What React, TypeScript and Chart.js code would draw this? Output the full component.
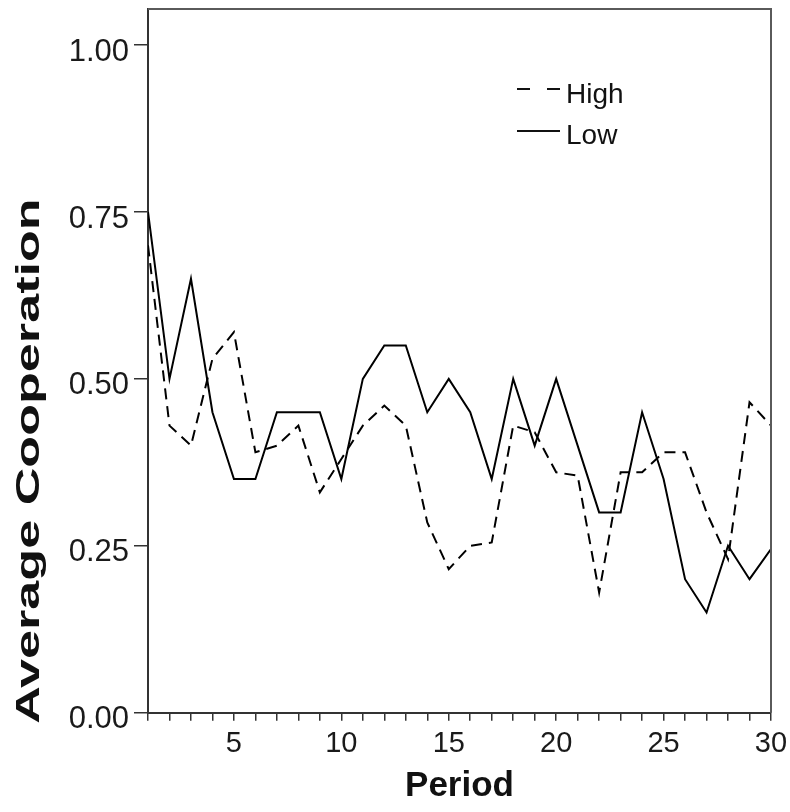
import React, { useEffect, useRef } from "react";
import { Chart, registerables } from "chart.js";

Chart.register(...registerables);

// ---- Data ----
const periods = [1, 2, 3, 4, 5, 6, 7, 8, 9, 10, 11, 12, 13, 14, 15, 16, 17, 18, 19, 20, 21, 22, 23, 24, 25, 26, 27, 28, 29, 30];
const highValues = [0.70, 0.43, 0.40, 0.53, 0.57, 0.39, 0.40, 0.43, 0.33, 0.38, 0.43, 0.46, 0.43, 0.285, 0.215, 0.25, 0.255, 0.43, 0.42, 0.36, 0.355, 0.18, 0.36, 0.36, 0.39, 0.39, 0.30, 0.23, 0.465, 0.43];
const lowValues = [0.75, 0.50, 0.65, 0.45, 0.35, 0.35, 0.45, 0.45, 0.45, 0.35, 0.50, 0.55, 0.55, 0.45, 0.50, 0.45, 0.35, 0.50, 0.40, 0.50, 0.40, 0.30, 0.30, 0.45, 0.35, 0.20, 0.15, 0.25, 0.20, 0.245];
const seriesNames = ["High", "Low"];
const yTickValues = [0, 0.25, 0.5, 0.75, 1.0];
const xLabelPeriods = [5, 10, 15, 20, 25, 30];
const xTitle = "Period";
const yTitle = "Average Cooperation";

const FONT = "'Liberation Sans', Arial, Helvetica, sans-serif";

export default function App() {
  const canvasRef = useRef<HTMLCanvasElement | null>(null);

  useEffect(() => {
    const canvas = canvasRef.current;
    if (!canvas) return;

    const framePlugin = {
      id: "frameAndLegend",
      afterDraw(chart: any) {
        const { ctx, chartArea } = chart;
        const { left, right, top, bottom } = chartArea;
        ctx.save();
        // top and right frame
        ctx.strokeStyle = "#5a5a5a";
        ctx.lineWidth = 2;
        ctx.setLineDash([]);
        ctx.beginPath();
        ctx.moveTo(left, top);
        ctx.lineTo(right, top);
        ctx.lineTo(right, bottom);
        ctx.stroke();

        // legend
        const lx0 = left + 369;
        const lx1 = left + 412;
        const rows = [
          { lineY: top + 80, textY: top + 86, dash: [13, 17], label: seriesNames[0] },
          { lineY: top + 122, textY: top + 127, dash: [], label: seriesNames[1] },
        ];
        ctx.font = `28px ${FONT}`;
        ctx.fillStyle = "#111";
        ctx.textBaseline = "middle";
        ctx.textAlign = "left";
        for (const r of rows) {
          ctx.strokeStyle = "#111";
          ctx.lineWidth = 2;
          ctx.setLineDash(r.dash);
          ctx.beginPath();
          ctx.moveTo(lx0, r.lineY);
          ctx.lineTo(lx1, r.lineY);
          ctx.stroke();
          ctx.setLineDash([]);
          ctx.fillText(r.label, lx1 + 6, r.textY);
        }

        // y-axis title (stretched along its length, as in the reference)
        ctx.save();
        ctx.translate(39, 461);
        ctx.rotate(-Math.PI / 2);
        ctx.scale(1.58, 1);
        ctx.font = `bold 33px ${FONT}`;
        ctx.fillStyle = "#111";
        ctx.textAlign = "center";
        ctx.textBaseline = "alphabetic";
        ctx.fillText(yTitle, 0, 0);
        ctx.restore();

        ctx.restore();
      },
    };

    const chart = new Chart(canvas, {
      type: "line",
      data: {
        datasets: [
          {
            label: seriesNames[0],
            data: periods.map((p, i) => ({ x: p, y: highValues[i] })),
            borderColor: "#000",
            borderWidth: 2,
            borderDash: [11, 7],
            pointRadius: 0,
            tension: 0,
            fill: false,
          },
          {
            label: seriesNames[1],
            data: periods.map((p, i) => ({ x: p, y: lowValues[i] })),
            borderColor: "#000",
            borderWidth: 2,
            pointRadius: 0,
            tension: 0,
            fill: false,
          },
        ],
      },
      options: {
        responsive: false,
        animation: false,
        devicePixelRatio: 1,
        layout: { padding: { left: 0, top: 9, right: 19, bottom: 0 } },
        plugins: {
          legend: { display: false },
          tooltip: { enabled: false },
        },
        scales: {
          x: {
            type: "linear",
            min: 1,
            max: 30,
            afterBuildTicks: (s: any) => {
              s.ticks = periods.map((v) => ({ value: v }));
            },
            afterFit: (s: any) => {
              s.height = 99.3;
              s.paddingLeft = 0;
              s.paddingRight = 0;
            },
            ticks: {
              autoSkip: false,
              maxRotation: 0,
              minRotation: 0,
              padding: 6,
              color: "#1a1a1a",
              font: { family: FONT, size: 29 },
              callback: (v: any) => (xLabelPeriods.includes(Number(v)) ? String(v) : ""),
            },
            grid: {
              display: true,
              drawOnChartArea: false,
              drawTicks: true,
              tickLength: 8,
              color: "#333",
              lineWidth: 1.5,
            },
            border: { display: true, color: "#333", width: 2 },
            title: {
              display: true,
              text: xTitle,
              color: "#111",
              font: { family: FONT, size: 35, weight: "bold", lineHeight: 1 },
              padding: { top: 0, bottom: 8.5 },
            },
          },
          y: {
            type: "linear",
            min: 0,
            max: 1.054,
            afterBuildTicks: (s: any) => {
              s.ticks = yTickValues.map((v) => ({ value: v }));
            },
            afterFit: (s: any) => {
              s.width = 148;
              s.paddingTop = 0;
              s.paddingBottom = 0;
            },
            ticks: {
              padding: 5,
              labelOffset: 7,
              color: "#1a1a1a",
              font: { family: FONT, size: 31 },
              callback: (v: any) => Number(v).toFixed(2),
            },
            grid: {
              display: true,
              drawOnChartArea: false,
              drawTicks: true,
              tickLength: 14,
              color: "#333",
              lineWidth: 1.5,
            },
            border: { display: true, color: "#333", width: 2 },
            title: { display: false },
          },
        },
      },
      plugins: [framePlugin],
    });

    return () => {
      chart.destroy();
    };
  }, []);

  return (
    <div style={{ position: "absolute", left: 0, top: 0, width: 790, height: 812, background: "#fff" }}>
      <canvas ref={canvasRef} width={790} height={812} style={{ display: "block" }} />
    </div>
  );
}
